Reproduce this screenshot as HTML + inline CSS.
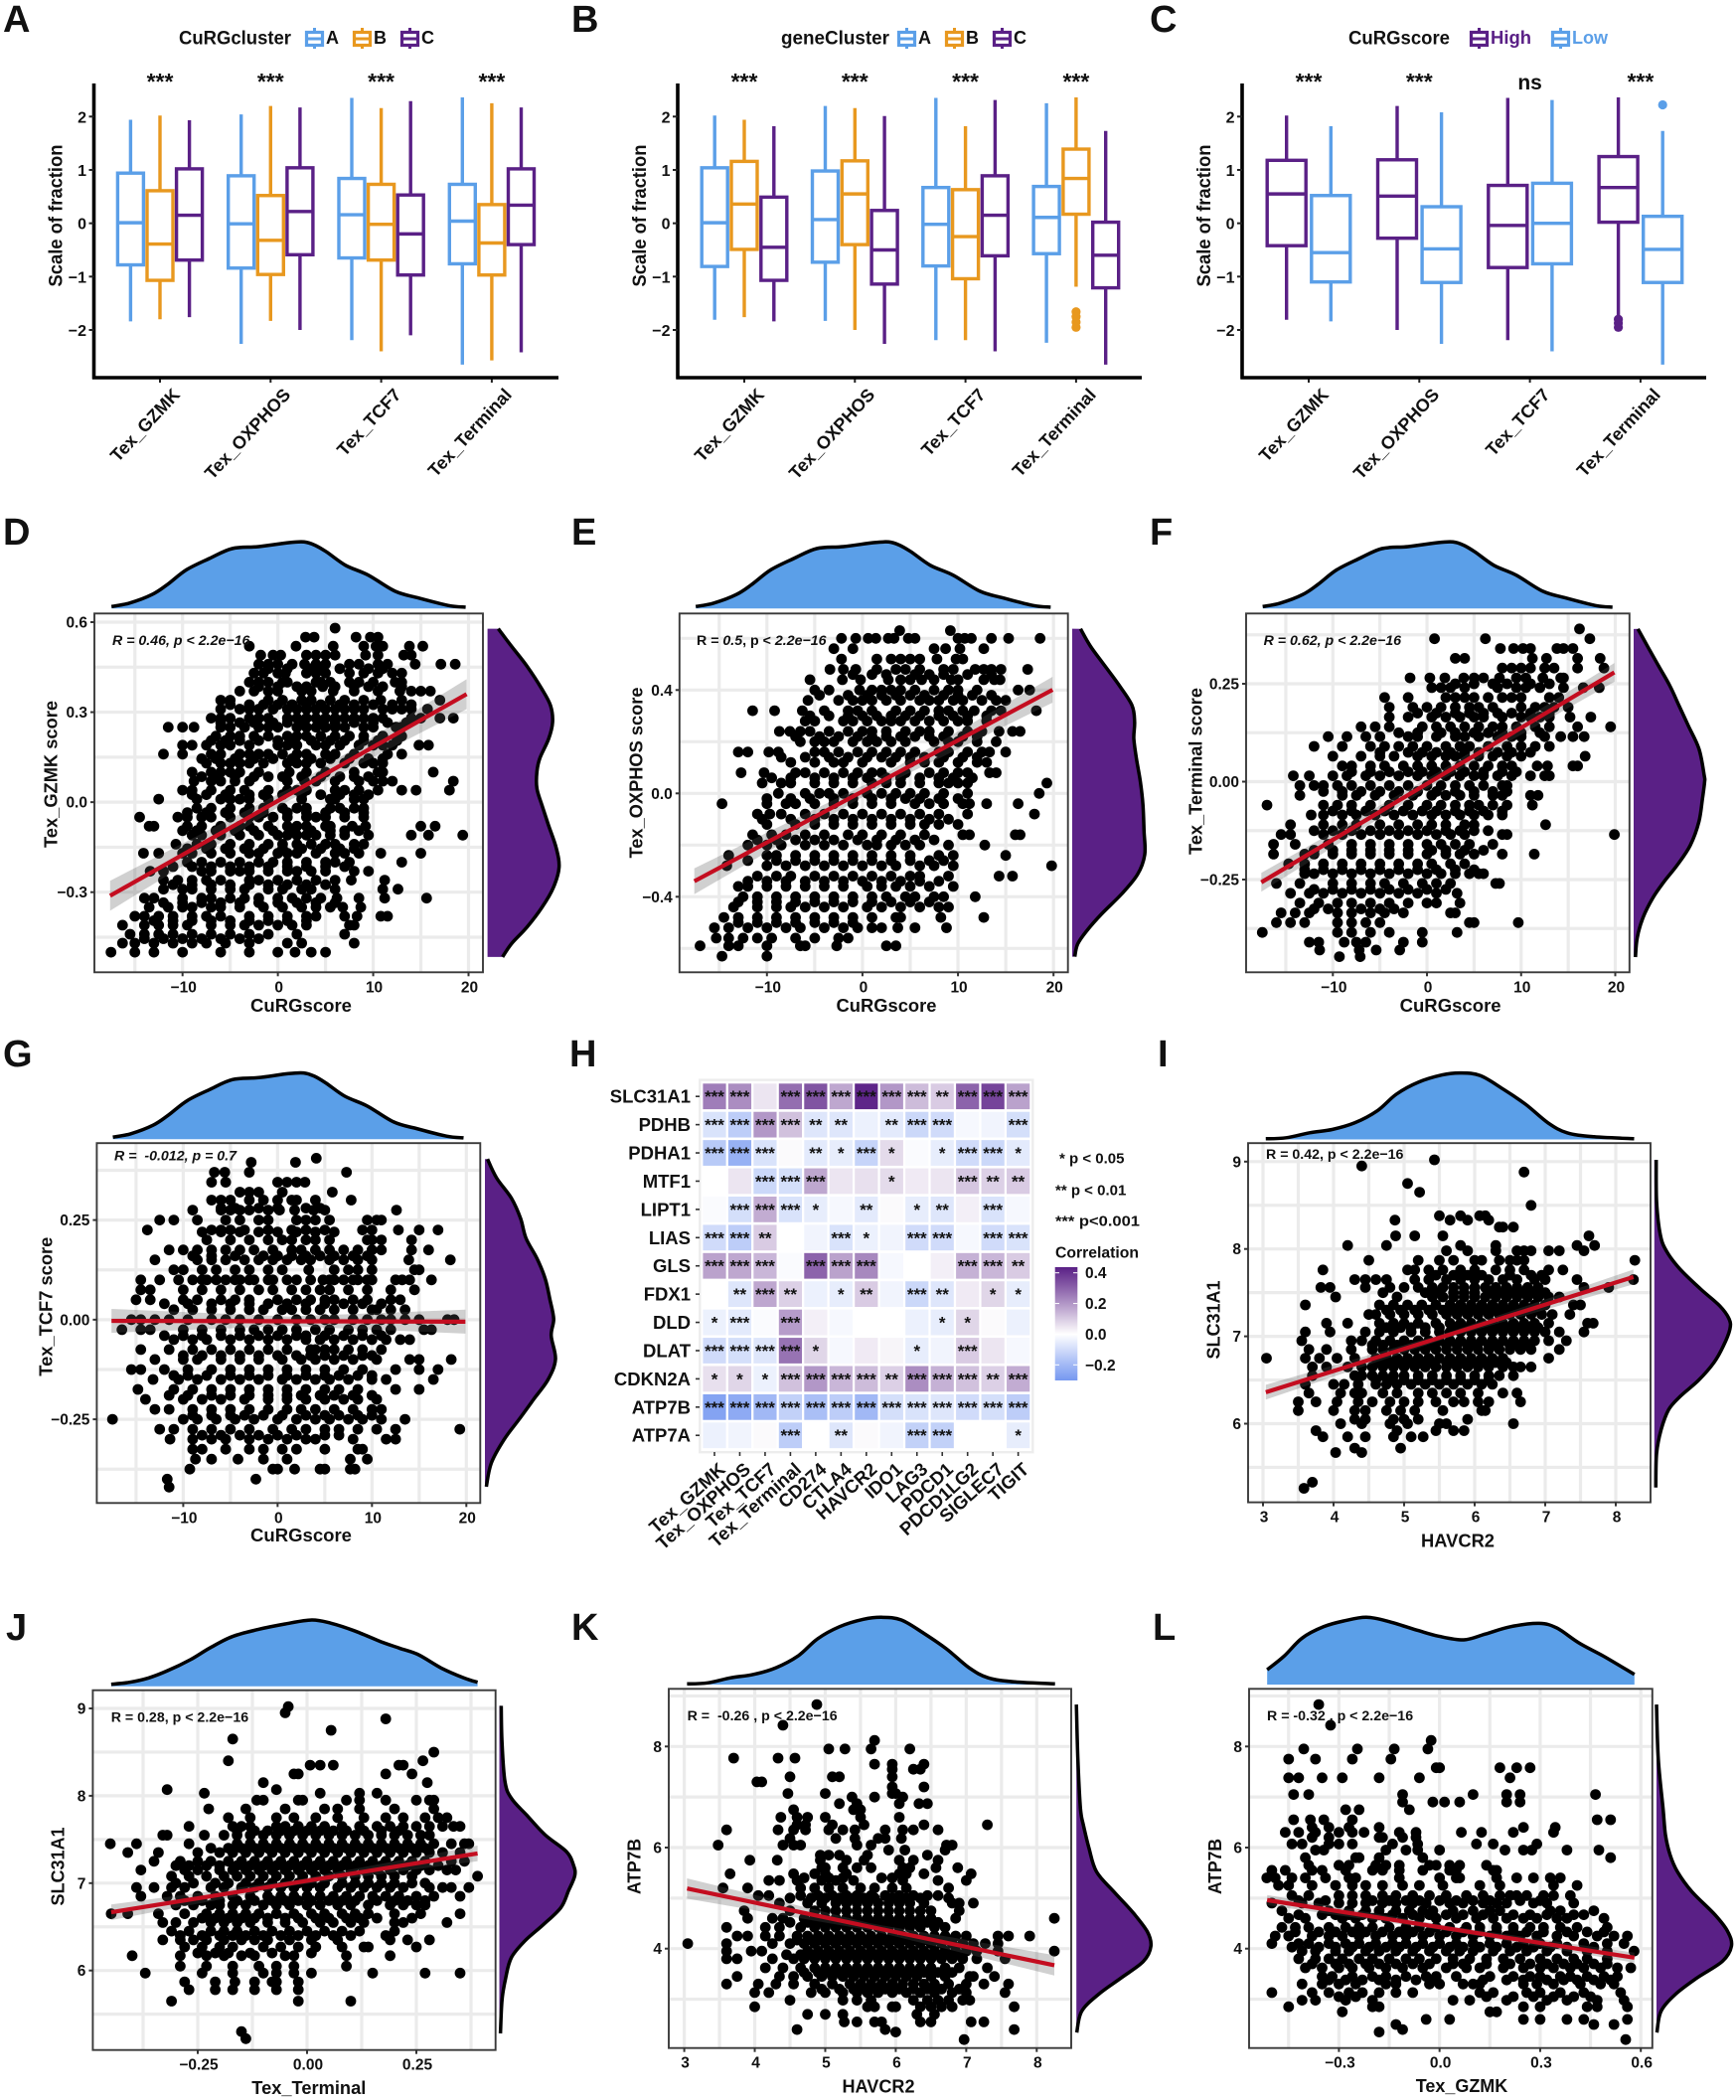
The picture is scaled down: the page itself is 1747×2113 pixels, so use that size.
<!DOCTYPE html>
<html lang="en">
<head>
<meta charset="utf-8">
<title>CuRG score panels</title>
<style>
html,body{margin:0;padding:0;background:#fff}
svg{display:block;font-family:"Liberation Sans",Arial,sans-serif}
text{font-weight:bold;fill:#111}
</style>
</head>
<body>
<svg id="figure" xmlns="http://www.w3.org/2000/svg" width="1747" height="2113" viewBox="0 0 1747 2113">
<rect width="1747" height="2113" fill="#fff"/>
</svg>
<script>
/* ===== Box plots ===== */
const boxCategories=['Tex_GZMK','Tex_OXPHOS','Tex_TCF7','Tex_Terminal'];
const boxYTicks=[2,1,0,-1,-2];
const boxYLabels=['2','1','0','−1','−2'];
const aSeries=['A','B','C'];
const aHigh=[[1.94,2.04,2.35,2.36],[2.02,2.2,2.16,2.25],[1.93,2.17,2.29,2.17]];
const aQ3=[[.94,.89,.84,.73],[.61,.52,.73,.35],[1.02,1.04,.53,1.02]];
const aMed=[[.01,-.01,.16,.04],[-.39,-.32,-.02,-.37],[.15,.22,-.2,.34]];
const aQ1=[[-.78,-.84,-.65,-.76],[-1.07,-.96,-.69,-.97],[-.69,-.59,-.97,-.4]];
const aLow=[[-1.84,-2.26,-2.19,-2.65],[-1.8,-1.83,-2.4,-2.57],[-1.76,-2,-2.1,-2.42]];
const aSig=['***','***','***','***'];
const bSeries=['A','B','C'];
const bHigh=[[2.02,2.2,2.35,2.25],[1.94,2.16,1.82,2.36],[1.82,2.01,2.31,1.73]];
const bQ3=[[1.04,.98,.67,.69],[1.16,1.17,.63,1.39],[.49,.24,.89,.02]];
const bMed=[[.01,.07,-.02,.11],[.36,.55,-.25,.84],[-.45,-.5,.15,-.6]];
const bQ1=[[-.81,-.73,-.8,-.57],[-.49,-.4,-1.04,.17],[-1.07,-1.14,-.61,-1.21]];
const bLow=[[-1.81,-1.83,-2.19,-2.24],[-1.76,-2,-2.19,-1.19],[-1.84,-2.26,-2.4,-2.65]];
const bSig=['***','***','***','***'];
const bOutSeries=[1,1,1,1];
const bOutCat=[3,3,3,3];
const bOutVal=[-1.66,-1.75,-1.85,-1.95];
const cSeries=['High','Low'];
const cHigh=[[2.02,2.2,2.35,2.36],[1.82,2.08,2.31,1.73]];
const cQ3=[[1.18,1.19,.71,1.25],[.52,.31,.75,.13]];
const cMed=[[.55,.51,-.04,.67],[-.55,-.48,0,-.49]];
const cQ1=[[-.42,-.28,-.83,.02],[-1.1,-1.11,-.76,-1.11]];
const cLow=[[-1.81,-2,-2.19,-1.81],[-1.84,-2.26,-2.4,-2.65]];
const cSig=['***','***','ns','***'];
const cOutSeries=[0,0,0,1];
const cOutCat=[3,3,3,3];
const cOutVal=[-1.8,-1.87,-1.95,2.22];

/* ===== Shared densities ===== */
const curgDensX=[-17.45,-15.6,-13.2,-11.6,-9.6,-7.2,-4.8,-2,1.15,2.75,3.9,5.1,7.1,9.5,12.3,14.7,17.9,19.7];
const curgDensH=[.03,.08,.21,.36,.58,.75,.9,.93,.99,1,.95,.85,.65,.5,.26,.16,.045,.02];
const havcrDensX=[3.04,3.33,3.66,3.98,4.3,4.62,4.89,5.2,5.54,5.8,6.08,6.4,6.72,7.04,7.31,7.69,8.26];
const havcrDensH=[.01,.025,.1,.15,.25,.43,.68,.86,.97,1,.96,.76,.53,.25,.1,.04,.01];
const jTopX=[-.448,-.406,-.363,-.319,-.267,-.223,-.171,-.11,-.05,.011,.055,.107,.168,.211,.255,.307,.359,.39];
const jTopH=[.03,.06,.125,.235,.4,.575,.75,.86,.94,1,.95,.84,.675,.575,.475,.275,.125,.06];
const lTopX=[-.514,-.464,-.41,-.346,-.282,-.218,-.153,-.068,-.003,.072,.136,.211,.297,.35,.415,.49,.581];
const lTopH=[.22,.42,.69,.86,.95,1,.94,.81,.72,.665,.75,.86,.91,.84,.62,.42,.15];
const dSideY=[.578,.52,.454,.377,.322,.267,.212,.146,.101,.046,-.009,-.075,-.152,-.218,-.285,-.351,-.417,-.472,-.516];
const dSideW=[.15,.335,.55,.76,.88,.91,.856,.73,.69,.69,.76,.85,.96,1,.92,.76,.55,.335,.21];
const eSideY=[.637,.57,.494,.417,.34,.276,.212,.135,.045,-.045,-.147,-.237,-.314,-.391,-.468,-.532,-.583,-.632];
const eSideW=[.115,.25,.45,.65,.825,.86,.85,.885,.94,.975,.99,1,.9,.675,.4,.2,.075,.035];
const fSideY=[.39,.346,.296,.245,.194,.143,.084,.016,-.001,-.043,-.102,-.162,-.213,-.255,-.297,-.348,-.399,-.448];
const fSideW=[.06,.195,.35,.51,.64,.77,.92,.995,1,.97,.92,.8,.615,.43,.27,.13,.05,.025];
const gSideY=[.403,.355,.305,.254,.204,.153,.103,.052,.002,-.04,-.099,-.15,-.2,-.251,-.301,-.36,-.419];
const gSideW=[.036,.167,.375,.505,.583,.74,.854,.92,.974,.94,1,.896,.69,.48,.27,.09,.02];
const iSideY=[9.02,8.54,8.16,7.97,7.77,7.54,7.35,7.2,7.08,6.89,6.7,6.5,6.31,6.16,5.93,5.66,5.27];
const iSideW=[.025,.03,.08,.165,.34,.615,.865,.99,1,.915,.79,.59,.34,.19,.09,.03,.02];
const jSideY=[9.03,8.61,8.16,7.97,7.78,7.55,7.36,7.21,7.09,6.91,6.72,6.53,6.34,6.15,5.92,5.66,5.28];
const jSideW=[.025,.035,.075,.16,.36,.61,.89,.98,1,.915,.815,.59,.34,.16,.085,.035,.015];
const kSideY=[8.83,7.75,6.77,6.44,5.98,5.52,5.13,4.73,4.34,4.05,3.75,3.42,3.1,2.76,2.34];
const kSideW=[0,.02,.055,.095,.17,.27,.5,.75,.95,1,.9,.6,.3,.07,.005];
const lSideY=[8.83,7.75,6.77,6.25,5.86,5.52,5.13,4.67,4.34,4.05,3.75,3.42,3.1,2.76,2.34];
const lSideW=[0,.024,.087,.12,.18,.28,.47,.78,.95,1,.88,.54,.255,.06,.005];

/* ===== Scatter values: one y level per row, x values on that level ===== */
const dLevels=[.58,.55,.52,.49,.46,.43,.40,.37,.34,.31,.28,.25,.22,.19,.16,.13,.10,.07,.04,.01,-.02,-.05,-.08,-.11,-.14,-.17,-.20,-.23,-.26,-.29,-.32,-.35,-.38,-.41,-.44,-.47,-.50];
const dRows=[[6],[2.9,3.8,8.2,9.7,10.5],[-3,1.9,5.8,9,10.3,11,13.8,15.2],[-1.8,-.5,.3,3,4,5,6,9.2,10.5,13.2,14],[-2,-1,0,1.5,2.8,4,5,7.5,8.5,10.5,11.5,14.4,17.1,18.6],[-2.5,-1.5,0,.8,3,4,5,7.5,9,10.5,12,13],[-3,-2,-1,.5,1,4,4.5,5.5,7.5,8.5,10,12.3,13],[-4,-2.5,-1,0,2.5,3.5,5.8,8,10.5,12.8,14,15,16],[-6,-5,-1,.5,2.5,3.5,5.5,7,9,10.8,13,17],[-6,-4,-3,-2,-.5,1,2,3,4,5,6,7,8,9,11,12,13,14,15.7],[-7,-6,-5,-3,-2,-1,1,2,3,4,5,6,7,8,9,10,11,14,15,17,18.4],[-11.5,-10,-8.8,-6,-5,-3.5,-2,-1,0,2,3,4,5,6,7,9,10,12.4,13],[-6.5,-5,-4,-2.5,-1,1,2,3,4.5,6,7.5,9,11,13],[-10,-9,-7.5,-6,-5,-3,0,1,2,4,5,6.5,8.5,10,11,12,14.8,15.8],[-12,-10,-7,-6,-4,-3,-2,-1,.5,2,3,5,6,8,11.5,13],[-7.5,-6,-5,-4,-3,-1.5,1,2,3,4.5,7,9,10,11],[-9,-7,-6,-5,-4,-2,1.2,3,5,8,10.5,11,16.3],[-8.8,-7,-6,-4.5,-3,1,2.8,4,6,8.5,10,11,12,18.4],[-10,-9,-7,-5,-3.5,-1,1,2,3,6,7,8.5,10.5,13,14.5,18],[-12.5,-8.5,-6,-5,-4,-3,-1,2.5,5.5,6,8,9],[-8.5,-7,-5,-3,-1.5,.5,2,3,5.5,6.5,8,9],[-14.5,-10.5,-9.5,-8,-7,-5,-3,-2,-.5,1,3,4,5,7,9],[-13.5,-13,-9.5,-8,-6,-4,-3,-1,1,2,3,5,5.5,7.8,9.2,15,16.5],[-9,-8,-6,-4,-2,0,1,2,3,4,5.5,7,9.5,14,15.8,19.4],[-10.7,-8.5,-7,-5,-3,-1,.5,2,3.5,5,6,8,9],[-14.1,-12.5,-10,-9,-7,-5,-3,-2,0,1,2,4,6,7,8.5,10.8,15],[-9.5,-8,-6,-4,-2,-.5,1,3,5,6,7.5,13],[-13.4,-12,-8,-7,-5,-4,-3,-1,1,2,3.5,5,8,9.5],[-12,-10.5,-9,-7.5,-6,-3,-2,0,2,4,6,7.7,11.2],[-12,-10,-9,-7,-5,-3.5,-1,.5,2.5,3.5,6,11,12.6],[-14,-13,-10,-8,-7,-5,-3.5,-2,0,1.5,3,4.5,6.2,8.5,11.2,15.6],[-13.5,-11.5,-10,-9,-7,-6,-4,-1.5,.5,2.5,4,5.5,6.8,8.7],[-15,-14,-12.5,-11,-9,-7.5,-6,-3,-1,1,3,4,7,8.3,10.8,11.5],[-16.3,-14,-12.5,-11,-9.5,-7,-5,-3.5,-2,0,1.5,3,7.5,8],[-15.5,-14,-12.5,-11,-9,-7,-5,-3,-1,2,7],[-16.3,-15,-13,-11,-9,-7.5,-5.5,-3,1,2.5,8],[-17.5,-15,-13,-10,-6,-3,0,1.8,3.5,5]];
const dLevels2=[.445,.385,.325,.265,.205,.145,.085,.025,-.035,-.095,-.155,-.215,-.275,-.335,-.395,-.455];
const dRows2=[[-1,1,3.5,4.5,6.5,9.5,11],[-2,0,2,3,4.7,6,8,9.5,11,13],[-5,-3,-1.5,0,1.5,3,4.5,6.5,8,10,12,14],[-6,-4,-2.5,-.5,1,2.5,4.5,6,8,10,11.5,13.5],[-7,-5.5,-4,-2,0,1.5,3.5,5.5,7,9,10.5,12.5],[-8,-6.5,-4.5,-2.5,-.5,1.5,3.5,5.5,7.5,9.5,11],[-8,-6.5,-4.5,-2.5,-1,.5,2.5,4.5,6.5,8,9.5],[-9,-7.5,-5.5,-3,-1.5,.5,2.5,4.5,6.5,8,9.5],[-9.5,-7.5,-5.5,-3.5,-1.5,1,3,5,7,9],[-10,-8.5,-6.5,-4.5,-2.5,-.5,1.5,3.5,5.5,7,8.5],[-9.5,-7.5,-5.5,-3.5,-1.5,.5,2.5,4.5,6.5,8],[-11,-9,-7,-5,-3,-1,1,3,5,7],[-11,-9,-7,-5,-3,-1,1,3,5],[-12,-10,-8,-6,-4,-2,0,2,4,6],[-13,-11,-9,-7,-5,-3,-1,1,3],[-14,-12,-10,-8,-6,-4,-2]];
const eLevels=[.63,.60,.56,.52,.48,.44,.40,.36,.32,.28,.24,.20,.16,.12,.08,.04,0,-.04,-.08,-.12,-.16,-.20,-.24,-.28,-.32,-.36,-.40,-.44,-.48,-.52,-.56,-.59,-.63];
const eRows=[[3.9,9.2],[-2.2,-.7,.6,1.4,2.7,3.3,4.8,5.5,10,10.7,11.4,13.5,15.3,18.6],[-3,-1,7.5,8.7,10.2,12.7],[-2.2,1.5,3,4,5,6,7.8,9.8,10.5],[-3.4,-2,-.7,1.5,3.5,4.5,6,8.5,9.5,11.8,12.7,13.5,14.5,17.3],[-5.5,-2.1,-.2,2.7,4,5,6.2,7.5,9.3,10,12.7,13.8,14.4],[-5,-3.5,-.3,1,2,3,4,5.5,7.5,9,10,12,17.5,16.3],[-5.7,-2.5,-1,0,1,2.5,4,6,7,8,9.5,10.5,12.5,14,15],[-11.5,-9.2,-6.3,-4,-1.5,-.5,1,3.5,5,6.5,8,9,10.5,11.7,13.5,14.5,18.2],[-6,-5,-2,-1,.5,2,3,4,5.5,7,8.5,10,11,13],[-8.7,-7.6,-6.5,-5.5,-3.5,-1.5,0,1,2.5,4.5,6,7,9,11,12.5,14.3,15.7,16.5],[-6.5,-5,-4,-3,-1,.5,1.5,3,4.5,7.5,9,10,12,14],[-13,-12,-9.8,-8.8,-5,-4,-2.5,-.5,1,2.5,4,5.5,8,9,11,12.5,13.3,15],[-7.5,-5,-3,-2,0,3,5,6.5,8,10,12,13],[-12.7,-10.3,-7,-6,-4,-2,-.5,1,2,4.5,7,8.5,10,11,13.3,14],[-10.5,-8.5,-7.5,-5,-3,-1,1,2.5,4,6,8,9,10,11,19.3],[-8.8,-6,-4.5,-3.5,-2,.5,2,3.5,5,6.5,8.5,11,18.5],[-14.7,-10,-8,-7,-5,-3,-1,1,3,5.5,7,8.5,10.5,11.2,13,16.3],[-11,-9.7,-8.5,-6,-4,-2,0,2,4,6,8,11,18],[-10,-7,-5,-3,-1,1,3,5,6.5,8,10],[-11.5,-9.5,-8,-6,-4,-1.5,0,2,4,6.5,10.5,11.2,16,16.5],[-12,-10,-8.5,-6,-4,-2,.5,1.5,3,4.5,6,9,12.8],[-14,-10,-9,-7,-5,-3,-1,1,3,5,8,9.5,15],[-14.2,-10,-8,-6,-4,-2,0,2,3.5,6,7.5,9.5,19.8],[-11,-9,-7.5,-5,-3,-1,1,3,5,6,9,14.3,15.7],[-13,-12,-10,-8,-6,-4,-2,.5,2,3.5,5,7,9.5],[-12.5,-11,-9,-7,-5,-3,-1,1,2.5,4.5,5.5,7.5,8.5,11.8],[-13.5,-11,-9,-7.5,-6,-4,-2,.5,2,4,6,8,9],[-14.5,-13,-11,-9,-7,-5,-3,-1,1,3.5,4,8.2,12.7],[-15.5,-14,-12,-10,-8,-6.5,-4,-2,-.5,1,2,3.7,5.5,8.8],[-15.3,-14,-12.5,-11,-9.5,-7,-5,-2.5,-1.5],[-17,-14,-13,-10,-6.5,-6,-2.7,2.5,3.5],[-14.7,-10]];
const eLevels2=[.46,.38,.30,.22,.14,.06,-.02,-.10,-.18,-.26,-.34,-.42,-.50];
const eRows2=[[-1,1,2.5,5.5,7,8.5,11,13.5],[-4.5,-1.5,.5,2,3.5,5,6.5,8.5,10,11.5,13.5],[-5.5,-3.5,-1.5,0,1.5,3,4.5,6,8,9.5,11,13],[-7,-4.5,-2.5,-.5,1,2.5,4,5.5,7,8.5,10.5,12],[-8.5,-6,-3.5,-1.5,.5,2,3.5,5,6.5,8.5,10.5,12],[-9.5,-7.5,-5,-3,-1,.5,2.5,4,6,8,9.5,11.5],[-10,-7.5,-5.5,-3,-1,1,3,4.5,6,8,10],[-10.5,-7.5,-5,-3,-1,1,3,5,7,9],[-11,-9,-7,-5,-3,-.5,1.5,3.5,5.5,7.5],[-12,-9,-7,-5,-3,-1,1,3,5,7,8.5],[-12,-10,-8,-6,-4,-2,0,2,4,6,8],[-13,-11,-9,-7,-5,-3,-1,1,3,5,7],[-13,-11,-9,-7,-5,-3,-1]];
const fLevels=[.39,.365,.34,.315,.29,.265,.24,.215,.19,.165,.14,.115,.09,.065,.04,.015,-.01,-.035,-.06,-.085,-.11,-.135,-.16,-.185,-.21,-.235,-.26,-.285,-.31,-.335,-.36,-.385,-.41,-.43,-.447];
const fRows=[[16.2],[.8,6.2,17.3],[7.8,9.2,10.2,11,13.8,14.5,15.5],[3,4,11.2,12.7,16,18.4],[8,9,10,11,12.5,13.5,16,18.8],[-1.8,.3,1.9,3.9,5,6,7.7,9.5,10.5,12.3,14.2,14.5],[.5,1.5,2.5,4,7.5,9.5,10.5,12,14.5,16.6,18.3],[-4.5,-2,2,3,4,5,6.5,8,9,10,13,14],[-4,-1.5,0,1.5,3,4.5,5.5,7,10,11.5,12.5,13.5,15],[-4,-2,.5,2,3.5,5,6,8,10,11,12,13,15.2,17.4],[-7,-5.5,-4,-.5,1,2.5,4,5.5,7,8,9.5,11.5,13,16,19.5],[-10.5,-8.5,-6.5,-5,-2,-1,1,3,4,5.5,7.5,9,10,12.5,14.2,15.5,16.7],[-12,-9,-6,-4.5,-3,-1.5,0,2,3.5,4.5,6.5,8.5,10,11.5,13],[-10,-7,-5,-3.5,-1,.5,2,3,4,5.5,7,8.5,10,16.8],[-9,-8,-6,-4.5,-2.5,-1,.5,2,3.5,5,6.5,8,9,11.7,12.8,15.5,16],[-14.2,-12.5,-10,-8.5,-6.5,-5,-3,-1,.5,2,3.5,5,6,7.5,9,11,12.5,13],[-13.5,-12,-11,-9.5,-8,-6,-4,-2,0,1.5,3,4.5,6,8,8.5],[-13.5,-9,-7.5,-5.5,-3.5,-1.5,.5,2,3.5,5,7,8,11,11.8],[-17,-11,-9.5,-8,-6,-4,-2,0,1.5,3,4.5,5.5,7,8.5,11.2],[-12.3,-11,-9,-7.5,-5.5,-3.5,-1.5,.5,2,3.5,5,6.5,8],[-14.5,-11,-9,-7.5,-5,-3,-1,.5,2,4,5,12.6],[-15.5,-14.5,-11,-9,-7,-5,-3,-1,1,2.5,4,8,8.5,19.9],[-16.3,-14,-10.5,-8,-6,-4,-2,0,1.5,3,4.5,7],[-16.3,-13,-12,-10,-8,-6,-4,-2,0,2,3.5,5,8,11.4],[-14.7,-13,-11,-9,-7,-5,-3,-1,.5,2.5,4],[-13,-12,-10,-8,-6,-4,-2,0,1.5,3,4.5,5.5,6],[-16,-13.5,-10,-8,-6,-4.5,-2.5,-.5,1,2.5,7.3,7.7],[-14.5,-12.5,-11,-9,-7,-5,-3,-1,1,3.2],[-13.5,-11.5,-9.5,-8,-6,-4,-2,0,1,3.5],[-15.5,-14,-12.5,-9.5,-8,-6,-4.5,-2.5,2.5,3],[-16,-14.5,-13,-9.5,-8,-6.5,-5,4.5,5,9.7],[-17.5,-9.5,-8,-6,-4,-.5,3.2],[-12.5,-11.5,-8.8,-7.5,-6.5,-2.5,-.5],[-11.4,-7.2,-5.4,-2.9],[-9.3,-7.1]];
const fLevels2=[.25,.175,.125,.075,.025,-.025,-.075,-.125,-.175,-.225,-.275,-.325];
const fRows2=[[3,5,7,8.5,11,13],[-1,1,3,4.5,6,7.5,9,11,13],[-3,-1,1.5,3,5,6.5,8,10,12],[-5,-2,-.5,1,2.5,4,5.5,7.5,9,11],[-8,-6,-4,-2,-.5,1,2.5,4,6,8,9.5],[-11,-9,-7,-5,-3,-1,1,3,5,7,8.5],[-10,-8,-6.5,-4.5,-2.5,-.5,1,3,4.5,6,8],[-12,-10,-8,-6,-4,-2,0,2,3.5,5,6.5],[-12,-10,-8,-6,-4,-2,.5,2,4,6],[-13,-11,-9,-7,-5,-3,-1,1,3,5],[-12,-10,-8,-6,-4,-2,0,2],[-12,-10.5,-7,-5,-3.5]];
const gLevels=[.405,.395,.37,.345,.32,.30,.275,.25,.225,.20,.175,.15,.125,.10,.075,.05,.025,0,-.025,-.05,-.075,-.10,-.125,-.15,-.175,-.20,-.225,-.25,-.275,-.30,-.325,-.35,-.375,-.40,-.42];
const gRows=[[4.1],[1.9,-2.8],[-6.7,-5.6,-3,7.3],[-7,-5.5,0,1,2,2.9],[-4,-3,-2,.5,5.8],[-7,-6,-5,-3,-1.5,0,1.5,2,4,7.8],[-9,-6,-5,-4,-3,-1,.2,1.8,3.8,5,12.6],[-12.5,-11,-8.5,-5.5,-4,-2,-1,2,3,4,5.5,9.5,10.5,11],[-13.8,-7,-6,-5,-3.5,-1,1.5,3,5,9,10,12.8,15,17],[-7.5,-5,-3,-1,.5,1.5,3,4,5.5,9.5,10,11,14.2],[-11.5,-10,-8.5,-7,-5.5,-4,-2.5,-.5,1.5,2.5,4,5.5,7,8.5,10,11,14.2,16],[-13,-8.5,-7,-5.5,-3.5,-2,-.5,1,2.5,3.5,5.5,7,8.5,10,13.9,18.3],[-11,-10,-8,-6.5,-4.5,-3,-1,.5,3.3,6,7.5,8.5,10,14.5,15],[-14.5,-12.5,-9,-7.5,-5.5,-4,-2.5,-1,1,4.8,6,7,8.5,10,12.5,13.2,14,16.3],[-14.5,-13.5,-10,-8,-6,-4,-2,-.5,1.5,3,4.5,5.5,7.5,9.5,12,14.5],[-15,-13.5,-10,-8.5,-6,-4.5,-3,0,2,3.5,5,6,8,9.5,12,13],[-11,-9,-7,-5,-3,-1.5,.5,1.5,3,4.5,6,8,10,10.5,12,13.5],[-15.5,-14.5,-13,-11.5,-9.5,-7,-5.5,-4,-2,0,2,3.5,5,6,8,9.5,11,12,13.5,15,18,18.7],[-16.5,-14.5,-13.5,-10,-8,-6,-4,-2.5,-1,.5,2,4,5.5,7.5,9,10.5,12,15.5,16.3],[-11,-9,-7.5,-5,-3,-1,1,3,4.5,6,8,10,11.5,13,14],[-14.5,-11.5,-9,-7,-5,-3,-1,1,3.5,4,5,6,7.5,9,11],[-13,-10,-8.5,-6,-4,-2,.5,2.5,4,6,8,10.5,14,15,18.4],[-15.5,-14.5,-12,-9.5,-7,-5,-3,-1,1,3,5,7,9,12.5,15,17],[-13.2,-10.5,-8.5,-6,-4,-2,.5,2,4,5.5,7.5,10,11.5,16.5],[-14.8,-11,-9,-7,-5,-3,-1,1,3,5,6.5,8.5,12.5,15],[-14,-10,-8,-6,-3.5,-1,1,3,5,7,8.5,10.5],[-13,-11.5,-9,-7,-5,-3,-1,1,2.5,4,6,8,10,11],[-17.5,-10,-8.5,-6.5,-4.5,-2.5,0,2,4,5.5,7.5,9,11,13.5],[-12.5,-11,-9,-7,-5,-3,-.5,1.5,3,5,6.5,8.5,10.5,12.5,19.3],[-11.4,-9,-7,-5.5,-3,-1,1,3,4,8,11.5,12.5],[-9,-8,-5.5,-3,-1.5,.5,2,5,8.5,9],[-8.7,-7,-4.2,-1.5,1,7.7,9.5],[-9.3,-.5,0,1.8,4.5,5,7.7,8.2],[-11.7,-2.3],[-11.5]];
const gLevels2=[.28,.22,.16,.10,.04,-.04,-.09,-.14,-.19,-.24,-.29];
const gRows2=[[-6,-4.5,-2,0,3,4.5],[-8,-6,-4,-2,0,2,4,6],[-9,-7,-4.5,-1.5,0,1.5,3,4.5,6,8,9.5],[-10.5,-8,-6.5,-4.5,-3,-.5,2,3.5,5.5,8,9.5],[-12,-9.5,-7,-5,-3,-1,1,3,5,7,9,11],[-12,-10,-8,-6,-4,-2,0,2,3,5,7,9,11],[-10,-8,-6,-4,-2,0,2,3.5,5,7,9,10],[-11,-9.5,-7.5,-5,-3,-1,1,3,5,6.5,8.5,10],[-11.5,-9.5,-7,-5,-3,-1,1,2.5,4.5,6,8,10],[-9,-7,-5,-3.5,-1.5,.5,3,5,6.5,8.5,10],[-8,-6,-4,-2,0,2,5,6.5]];
const iLevels=[9.02,8.95,8.88,8.75,8.65,8.5,8.38,8.33,8.25,8.15,8.04,7.98,7.87,7.76,7.65,7.56,7.45,7.36,7.25,7.15,7.05,6.95,6.85,6.75,6.65,6.55,6.45,6.35,6.25,6.15,6.05,6,5.92,5.85,5.72,5.67,5.33,5.26];
const iRows=[[5.43],[4.4],[6.7],[5.05],[5.22],[6.8],[5.5,5.8,6.07,6.15],[4.87,5.65,5.9,6.2],[6.35,6.4,6.55],[4.88,5.15,5.55,7.62],[4.2,4.75,5.8,6.3,7.45,7.7],[5.6,5.9,6.3,6.6,6.7,6.8,7.05,7.2,7.55],[4.5,5.2,5.5,5.7,6,6.1,6.35,6.5,6.6,6.7,8.27],[3.85,5.05,5.15,5.35,5.55,5.8,6,6.3,6.5,6.7,7.05,7.25],[4.3,4.45,4.6,4.75,5.15,5.35,5.6,5.8,6,6.2,6.4,6.6,6.85,7,7.45,8.25],[3.82,3.95,4.45,4.8,5,5.2,5.4,5.55,5.7,5.85,6,6.15,6.3,6.45,6.6,6.75,6.9,7.55,7.9],[4.03,4.9,5.4,5.55,5.7,5.85,6,6.15,6.3,6.45,6.6,6.75,6.9,7.05,7.2],[3.6,4.65,4.85,5.05,5.25,5.45,5.65,5.8,5.95,6.1,6.25,6.4,6.55,6.7,6.85,7,7.4,7.5],[4.5,4.6,4.8,5,5.2,5.4,5.6,5.75,5.9,6.05,6.2,6.35,6.5,6.65,6.8,6.95,7.1,7.35],[3.9,4.2,4.65,4.85,5,5.2,5.45,5.65,5.8,5.95,6.1,6.25,6.4,6.55,6.7,6.85,7.05,7.6,7.68],[3.6,3.95,4.45,4.65,4.85,5.1,5.3,5.5,5.65,5.8,5.95,6.1,6.25,6.4,6.55,6.7,6.85,7,7.2,7.55],[3.55,4.25,4.4,4.6,4.8,5,5.2,5.35,5.5,5.65,5.8,5.95,6.1,6.25,6.4,6.55,6.7,6.85,7.05,7.3],[3.65,3.9,4.25,4.55,4.7,4.85,5,5.15,5.3,5.45,5.6,5.75,5.9,6.05,6.2,6.35,6.5,6.65,6.8,7.2],[3.05,3.6,3.8,4.05,4.3,4.6,4.75,4.9,5.05,5.2,5.35,5.5,5.65,5.8,5.95,6.1,6.25,6.4,7.05],[3.7,3.9,4.2,4.4,4.55,4.7,4.85,5,5.15,5.3,5.45,5.6,5.75,5.9,6.05,6.2,6.4,6.55,6.65,6.8],[3.7,4.3,4.4,4.55,4.7,4.85,5,5.2,5.4,5.6,5.8,6,6.2,6.35,6.55],[3.6,4,4.15,4.35,4.6,4.75,4.9,5.1,5.3,5.5,5.7,5.9,6.1,6.25],[3.65,4.1,4.3,4.4,4.7,4.9,5.2,5.4,5.6,5.8,6.05,6.4,6.6],[3.5,3.75,4.05,4.35,4.55,4.8,5,5.2,5.45,5.7,5.85,6.05,6.2,6.65],[3.5,4,4.3,4.45,4.75,4.95,5.15,5.55,6.1,6.15],[4.3,4.45,4.85,5,5.2,5.9],[4.1,4.4,4.8,5.05,5.5,5.6,6.55],[3.75,4.9,5.45,5.7,5.85],[3.85,4.2,4.45,4.85,5.1,5.27],[4.3,4.95],[4.03,4.4],[3.7],[3.58]];
const iLevels2=[7.7,7.5,7.3,7.1,6.9,6.7,6.5];
const iRows2=[[5.45,5.7,5.9,6.1,6.5,6.8,6.95],[4.7,5.3,5.5,5.7,5.85,6,6.2,6.4,6.55,6.7,6.85,7],[4.75,4.95,5.15,5.35,5.55,5.7,5.85,6,6.15,6.3,6.45,6.6,6.75,6.9],[4.75,4.95,5.1,5.3,5.5,5.7,5.85,6,6.15,6.3,6.45,6.6,6.75,6.9],[4.55,4.7,4.9,5.1,5.25,5.4,5.6,5.75,5.9,6,6.2,6.3,6.5,6.6,6.75],[4.65,4.8,4.95,5.1,5.25,5.4,5.6,5.7,5.85,6,6.15,6.3,6.45],[4.6,4.8,5,5.2,5.4,5.6,5.8,6,6.2]];
const jLevels=[9.02,8.95,8.88,8.75,8.65,8.5,8.4,8.35,8.25,8.15,8.07,8.03,7.95,7.85,7.75,7.65,7.55,7.45,7.35,7.25,7.15,7.08,6.95,6.85,6.75,6.65,6.55,6.45,6.35,6.27,6.17,6.05,5.97,5.87,5.78,5.65,5.3,5.22];
const jRows=[[-.043],[-.05],[.18],[.055],[-.17],[.29],[-.18,.265],[.007,.03,.06,.21,.22],[-.03,-.02,.18,.24],[-.1,.275],[-.32,-.07],[-.235,.03,.12,.16],[-.115,-.1,-.02,-.01,.09,.12,.18,.25,.28,.29],[-.225,-.14,-.05,.04,.07,.12,.2,.29],[-.18,-.13,-.07,-.03,.02,.07,.13,.18,.22,.27,.3,.32],[-.27,-.17,-.15,-.13,-.07,-.05,-.02,.01,.04,.08,.12,.16,.19,.22,.25,.28,.31,.335,.35],[-.33,-.32,-.235,-.19,-.16,-.13,-.1,-.07,-.04,-.01,.02,.05,.08,.11,.14,.17,.2,.23,.26,.28],[-.45,-.39,-.27,-.16,-.13,-.1,-.07,-.04,-.01,.02,.05,.08,.11,.14,.17,.2,.23,.26,.29,.33,.36,.37],[-.41,-.34,-.25,-.2,-.17,-.14,-.11,-.08,-.05,-.02,.01,.04,.07,.1,.13,.16,.19,.22,.25,.28,.31,.35],[-.35,-.29,-.25,-.22,-.18,-.15,-.12,-.09,-.06,-.03,0,.03,.06,.09,.12,.15,.18,.21,.24,.27,.33,.36],[-.38,-.28,-.25,-.2,-.17,-.14,-.11,-.08,-.05,-.02,.01,.04,.07,.1,.13,.16,.19,.22,.25,.28,.32,.34],[-.31,-.27,-.23,-.19,-.16,-.13,-.1,-.07,-.04,-.01,.02,.05,.08,.11,.14,.17,.2,.24,.39],[-.39,-.35,-.31,-.28,-.22,-.19,-.15,-.12,-.09,-.06,-.03,0,.03,.07,.1,.13,.16,.19,.22,.28,.31,.33,.37],[-.38,-.32,-.29,-.25,-.21,-.17,-.13,-.09,-.06,-.03,0,.03,.06,.09,.12,.15,.18,.21,.25,.29,.35],[-.3,-.26,-.22,-.2,-.17,-.14,-.1,-.07,-.04,0,.03,.07,.1,.14,.19,.22,.25,.27],[-.448,-.41,-.34,-.28,-.23,-.2,-.17,-.14,-.11,-.07,-.03,.01,.04,.08,.11,.14,.2,.26,.35],[-.33,-.3,-.26,-.22,-.19,-.16,-.13,-.09,-.05,-.01,.03,.06,.1,.13,.2,.22,.32],[-.31,-.27,-.22,-.19,-.16,-.12,-.08,-.04,0,.04,.08,.12,.2],[-.33,-.29,-.26,-.23,-.19,-.15,-.12,-.09,-.04,.01,.07,.19,.23,.28],[-.28,-.24,-.2,-.17,-.1,-.06,-.02,.02,.08,.13,.14,.25],[-.4,-.29,-.23,-.19,-.15,-.12,-.05,-.03,.09,.19],[-.29,-.23,-.17,-.11,-.07,-.03,.09],[-.37,-.24,-.17,-.1,-.07,-.03,.01,.15,.27,.35],[-.28,-.21,-.165,-.12,-.08,-.07,-.02],[-.27,-.21,-.17,-.12,-.07,-.02],[-.31,-.02,.1],[-.15],[-.14]];
const jLevels2=[7.6,7.4,7.2,7.0,6.8,6.6,6.4,6.2];
const jRows2=[[-.16,-.12,-.09,-.06,-.03,0,.03,.06,.09,.13,.17,.21],[-.22,-.18,-.15,-.12,-.09,-.06,-.03,0,.03,.06,.09,.12,.15,.18,.21,.24,.27],[-.3,-.27,-.23,-.2,-.16,-.13,-.1,-.07,-.04,-.01,.02,.05,.08,.11,.14,.17,.2,.23,.26,.3],[-.3,-.26,-.21,-.18,-.14,-.11,-.08,-.05,-.02,.01,.04,.08,.11,.14,.17,.2,.24,.27],[-.28,-.24,-.2,-.16,-.12,-.08,-.05,-.02,.01,.05,.08,.11,.16,.2,.23,.27],[-.24,-.21,-.18,-.15,-.12,-.09,-.05,-.02,.02,.05,.09,.12,.16,.24],[-.29,-.24,-.2,-.17,-.14,-.1,-.06,-.02,.02,.06,.1,.18],[-.25,-.21,-.18,-.13,-.08,.01]];
const kLevels=[8.83,8.42,8.12,7.95,7.77,7.65,7.55,7.4,7.3,7.2,7.07,7,6.87,6.75,6.6,6.45,6.35,6.18,6.05,5.95,5.85,5.75,5.6,5.48,5.35,5.2,5.05,4.9,4.75,4.6,4.42,4.25,4.1,3.95,3.8,3.62,3.45,3.3,3.13,2.98,2.85,2.7,2.55,2.4,2.35,2.2];
const kRows=[[4.88],[4.4],[5.7],[5.05,5.28,5.65,6.2],[3.7,4.33,4.57],[5.7,5.95,6.4],[5.95,6.25,6.35],[4.5,5.1,5.2,5.95],[4.03,4.1],[5.95,6.4],[4.47,5,5.95,6],[5.38,5.7,6.1],[5.2,5.45,6.05,6.33,6.45],[4.55,5.4,5.5],[4.37,4.6,4.75,5,5.5,6.05],[4.6,4.72,5.1,5.55,6.4,7.3],[3.6,4.33,4.55,4.72,5.05,5.25,5.42,5.85,6.1,6.25,6.6],[4.5,5.15,5.42,5.75,5.85,6.08],[3.48,4.4,4.55,4.65,5.45,5.65,6.72,6.8],[5.9,6.13,6.7],[4.93,5.05,5.2,5.6,6.45],[3.93,4.32,4.93,5.3,5.55,6.05,6.25,6.6],[4.95,5,5.25,5.45,5.65,6.1,6.2,6.57,6.88],[3.65,4.55,4.85,5,5.3,6.05,6.15,6.4,7.07],[4.2,4.35,4.6,4.95,5.15,5.4,6.1,6.6,7],[3.55,3.9,4.65,4.85,5.05,5.25,5.5,5.7,5.95,6.15,6.75],[4.05,4.2,4.65,4.9,5.1,5.3,5.45,5.65,5.85,6.05,6.25,6.45,6.6],[4.35,4.75,4.95,5.15,5.3,5.45,5.6,5.75,5.9,6.05,6.2,6.4,6.8,6.9,7.1],[3.85,4.5,4.85,5,5.15,5.3,5.45,5.6,5.75,5.9,6.05,6.2,6.35,6.5,6.9],[3.9,4.25,4.4,4.7,4.85,5,5.15,5.3,5.45,5.6,5.75,5.9,6.05,6.2,6.35,6.5,6.85,8.25],[3.6,4.15,4.35,4.65,4.85,5,5.15,5.3,5.45,5.6,5.75,5.9,6.05,6.2,6.35,6.55,6.7],[3.75,3.9,4.15,4.35,4.6,4.75,4.9,5.05,5.2,5.35,5.5,5.65,5.8,5.95,6.1,6.25,6.4,6.55,6.7,6.85,7,7.45,7.6,7.9],[3.05,3.6,4.25,4.5,4.7,4.85,5,5.15,5.3,5.45,5.6,5.75,5.9,6.05,6.2,6.35,6.5,6.65,6.8,6.95,7.1,7.27,7.45],[3.6,3.95,4.1,4.75,4.9,5.05,5.2,5.35,5.5,5.65,5.8,5.95,6.1,6.25,6.4,6.55,6.7,6.85,7,7.15,7.45,8.25],[3.6,3.75,4.25,4.55,4.7,4.85,5,5.15,5.3,5.45,5.6,5.75,5.9,6.05,6.2,6.35,6.5,6.65,6.8,6.95,7.15,7.55],[4.15,4.4,4.65,4.85,5,5.15,5.3,5.45,5.6,5.75,5.9,6.05,6.2,6.35,6.5,6.7,6.9,7.3],[3.75,4.35,4.55,4.75,4.95,5.1,5.25,5.4,5.55,5.7,5.85,6,6.15,6.3,6.5,6.7,7.05,7.1,7.4],[3.6,4.05,4.3,4.55,4.85,5.1,5.35,5.5,5.65,5.8,5.95,6.1,6.25,6.4,6.55,6.75,7,7.25,7.6],[4,4.2,4.8,5,5.25,5.45,5.6,5.75,5.95,6.15,6.35,6.55,6.8,7,7.55],[4.5,5.25,5.45,5.65,6.25,6.45,6.6,6.75,6.95,7.05],[4,5.6,5.7,5.95,6,6.35,6.5,6.65,6.8,7.68],[4.75,5,5.25,6.3,6.55],[5.27,5.45,5.7,5.8,6.35,6.5,7.07,7.25],[4.6,5.85,7.68],[6],[6.97]];
const kLevels2=[5.4,5,4.52,4.17,3.88,3.53,3.2];
const kRows2=[[4.7,5.05,5.25,5.8,5.95],[4.5,4.8,5,5.2,5.4,5.55,5.7,5.95,6.15,6.35,6.75],[4.5,4.75,4.95,5.1,5.25,5.4,5.55,5.7,5.85,6,6.15,6.3,6.45,6.6],[4.6,4.8,4.95,5.1,5.25,5.4,5.55,5.7,5.85,6,6.15,6.3,6.45,6.6,6.75],[4.45,4.65,4.8,4.95,5.1,5.25,5.4,5.55,5.7,5.85,6,6.15,6.3,6.45,6.6,6.75,6.9],[4.7,4.9,5.05,5.2,5.35,5.5,5.65,5.8,5.95,6.1,6.25,6.4,6.6,6.8],[4.95,5.2,5.4,5.55,5.7,5.85,6.05,6.25,6.45,6.65,6.9]];
const lLevels=[8.83,8.42,8.12,7.95,7.75,7.58,7.38,7.05,6.9,6.75,6.55,6.4,6.3,6.2,6.07,5.95,5.8,5.65,5.55,5.4,5.25,5.05,4.9,4.75,4.6,4.42,4.25,4.1,3.95,3.8,3.62,3.45,3.3,3.13,2.98,2.85,2.75,2.6,2.5,2.4,2.35,2.2];
const lRows=[[-.36],[-.325],[-.025],[-.405,-.245,-.135,-.035],[-.45,-.37,-.26,-.145],[-.01,0,.18,.23,.27],[-.45,-.42,-.35,-.29,-.18,-.06,.21],[-.435,-.39,-.11,.1,.2,.24,.465],[-.11,-.02,.015,.06,.2,.24],[-.28,-.24,-.09],[-.435,-.385,-.345,-.26,.47,.51],[-.38,-.33,-.27,-.18,.25,.345],[-.46,-.42,-.37,-.3,-.26,-.225,-.12,-.07,.065,.125,.22,.34],[-.38,-.33,-.18,-.17,-.11,-.07],[-.44,-.41,-.33,-.3,-.26,-.14,-.065,.11,.16,.29],[-.37,-.345,-.16,-.1,-.065,0,.195,.25,.275,.38,.475],[-.4,-.25,-.24,-.18,-.05,.51],[-.39,-.3,-.27,-.19,-.16,-.12,-.03,-.01,.03,.06,.14],[-.5,-.46,-.38,-.35,-.28,-.2,-.17,-.12,-.05,.03,.05,.16,.17],[-.515,-.49,-.44,-.4,-.34,-.27,-.25,-.12,0,.05,.06,.17,.23,.28,.33,.36],[-.48,-.45,-.38,-.31,-.26,-.22,-.17,-.11,-.06,.01,.12,.18,.34,.41],[-.44,-.39,-.3,-.26,-.22,-.17,-.13,-.08,-.03,.02,.08,.13,.18,.21,.23,.26,.31,.34,.39],[-.5,-.41,-.36,-.3,-.26,-.22,-.17,-.13,-.08,-.04,.03,.07,.13,.17,.2,.28,.32,.4],[-.47,-.33,-.27,-.22,-.18,-.13,-.09,-.05,-.02,.04,.1,.15,.18,.33,.36,.46],[-.45,-.4,-.29,-.25,-.2,-.16,-.11,-.06,-.01,.05,.11,.16,.2,.25,.29,.35,.38,.49],[-.47,-.43,-.39,-.33,-.28,-.24,-.2,-.15,-.1,-.06,-.01,.03,.08,.12,.17,.22,.27,.31,.36,.41,.5],[-.49,-.45,-.38,-.33,-.29,-.24,-.19,-.14,-.1,-.05,0,.05,.1,.15,.2,.24,.29,.35,.4,.47,.52,.56],[-.5,-.42,-.39,-.33,-.28,-.24,-.19,-.14,-.1,-.05,0,.05,.1,.15,.2,.25,.3,.35,.43,.5,.55],[-.41,-.37,-.31,-.27,-.22,-.18,-.13,-.08,-.03,.02,.06,.1,.16,.21,.26,.32,.38,.44,.5,.58],[-.42,-.37,-.33,-.29,-.24,-.2,-.15,-.1,-.06,-.01,.04,.09,.14,.19,.24,.3,.35,.4,.44,.5],[-.4,-.35,-.3,-.26,-.21,-.16,-.11,-.05,.02,.08,.12,.19,.25,.3,.34,.39,.43,.48,.53,.57],[-.35,-.32,-.26,-.2,-.16,-.1,-.04,-.01,.05,.15,.22,.27,.3,.36,.39,.44,.49,.53],[-.41,-.35,-.3,-.25,-.16,-.13,-.03,0,.07,.1,.12,.25,.29,.34,.42,.48,.52],[-.5,-.38,-.33,-.27,-.23,-.18,-.13,-.08,.12,.16,.26,.3,.36,.43,.54],[-.41,-.37,-.28,-.2,.04,.09,.2,.32,.38,.47,.55],[-.45,-.2,-.18,.25,.3,.44,.47,.56],[-.29,.15,.17],[-.04,.03,.25,.3,.38,.43,.56],[-.13,.46,.52],[-.11],[-.18],[.555]];
const lLevels2=[4.95,4.67,4.33,4.03,3.7,3.38,3.05];
const lRows2=[[-.42,-.34,-.2,-.15,-.1,-.06,0,.05,.1,.15,.24,.3],[-.42,-.35,-.31,-.27,-.23,-.18,-.14,-.08,-.03,.02,.07,.13,.22,.27,.32,.4,.43],[-.43,-.36,-.31,-.26,-.22,-.17,-.12,-.08,-.03,.02,.07,.12,.17,.22,.26,.31,.38,.44,.49],[-.44,-.36,-.31,-.26,-.21,-.16,-.12,-.07,-.02,.03,.07,.12,.17,.23,.28,.33,.38,.46],[-.38,-.31,-.27,-.22,-.18,-.13,-.08,-.03,.04,.07,.14,.21,.27,.32,.37,.41,.46,.5],[-.33,-.28,-.23,-.18,-.13,-.07,-.02,.13,.2,.25,.32,.37,.41,.46,.51],[-.3,-.25,.14,.22,.28,.34,.4,.45]];

/* ===== Fits ===== */
const dFitX=[-17.6,19.8],dFitY=[-.312,.36],dCi=[.05,.02,.05];
const eFitX=[-17.6,19.9],eFitY=[-.34,.401],eCi=[.05,.02,.05];
const fFitX=[-17.6,19.9],fFitY=[-.257,.279],fCi=[.024,.012,.024];
const gFitX=[-17.6,19.9],gFitY=[-.003,-.005],gCi=[.03,.012,.03];
const iFitX=[3.04,8.25],iFitY=[6.36,7.68],iCi=[.085,.03,.085];
const jFitX=[-.448,.39],jFitY=[6.667,7.34],jCi=[.09,.03,.09];
const kFitX=[3.04,8.25],kFitY=[5.19,3.67],kCi=[.2,.07,.2];
const lFitX=[-.514,.581],lFitY=[4.96,3.82],lCi=[.1,.05,.1];

/* ===== Ticks ===== */
const curgXTicks=[-10,0,10,20];
const curgXLabels=['−10','0','10','20'];
const curgXGrid=[-15,-10,-5,0,5,10,15,20];
const dYTicks=[.6,.3,0,-.3];
const dYLabels=['0.6','0.3','0.0','−0.3'];
const dYGrid=[.6,.45,.3,.15,0,-.15,-.3,-.45];
const eYTicks=[.4,0,-.4];
const eYLabels=['0.4','0.0','−0.4'];
const eYGrid=[.6,.4,.2,0,-.2,-.4,-.6];
const tYTicks=[.25,0,-.25];
const tYLabels=['0.25','0.00','−0.25'];
const tYGrid=[.375,.25,.125,0,-.125,-.25,-.375];
const havXTicks=[3,4,5,6,7,8];
const havXLabels=['3','4','5','6','7','8'];
const havXGrid=[3,3.5,4,4.5,5,5.5,6,6.5,7,7.5,8];
const slcYTicks=[9,8,7,6];
const slcYLabels=['9','8','7','6'];
const slcYGrid=[9,8.5,8,7.5,7,6.5,6,5.5];
const jXTicks=[-.25,0,.25];
const jXLabels=['−0.25','0.00','0.25'];
const jXGrid=[-.375,-.25,-.125,0,.125,.25,.375];
const atpYTicks=[8,6,4];
const atpYLabels=['8','6','4'];
const atpYGrid=[9,8,7,6,5,4,3];
const lXTicks=[-.3,0,.3,.6];
const lXLabels=['−0.3','0.0','0.3','0.6'];
const lXGrid=[-.45,-.3,-.15,0,.15,.3,.45,.6];

/* ===== Heatmap ===== */
const heatRowsNames=['SLC31A1','PDHB','PDHA1','MTF1','LIPT1','LIAS','GLS','FDX1','DLD','DLAT','CDKN2A','ATP7B','ATP7A'];
const heatColNames=['Tex_GZMK','Tex_OXPHOS','Tex_TCF7','Tex_Terminal','CD274','CTLA4','HAVCR2','IDO1','LAG3','PDCD1','PDCD1LG2','SIGLEC7','TIGIT'];
const heatValues=[
[.25,.22,.05,.28,.33,.17,.42,.2,.13,.1,.3,.36,.18],
[-.08,-.14,.2,.12,-.07,-.07,-.04,-.06,-.11,-.1,-.02,-.03,-.09],
[-.15,-.22,-.08,.01,-.06,-.05,-.12,.07,-.01,-.05,-.1,-.11,-.06],
[0,.05,-.11,-.09,.17,.05,.06,.07,.04,.05,.11,.09,.1],
[-.01,-.09,.16,-.08,-.05,-.02,-.06,.01,-.05,-.07,.03,-.08,-.02],
[-.1,-.14,.1,0,-.03,-.08,-.04,-.03,-.1,-.1,-.02,-.1,-.08],
[.18,.17,.14,-.01,.3,.18,.23,-.02,0,.03,.15,.14,.1],
[0,-.07,.17,.09,-.04,-.05,.1,-.03,-.11,-.07,.04,.08,-.05],
[-.04,-.06,-.01,.19,.03,-.02,0,0,-.04,-.05,.08,.01,-.04],
[-.1,-.09,-.07,.27,.08,-.02,.04,.02,-.05,-.03,.1,.05,-.02],
[.06,.08,-.04,.12,.2,.14,.13,.09,.22,.15,.12,.09,.16],
[-.26,-.24,-.2,-.13,-.18,-.14,-.2,-.09,-.08,-.07,-.1,-.09,-.14],
[-.04,-.03,.01,-.14,0,-.07,.01,-.03,-.13,-.13,0,0,-.05]];
const heatStars=[
[3,3,0,3,3,3,3,3,3,2,3,3,3],
[3,3,3,3,2,2,0,2,3,3,0,0,3],
[3,3,3,0,2,1,3,1,0,1,3,3,1],
[0,0,3,3,3,0,0,1,0,0,3,2,2],
[0,3,3,3,1,0,2,0,1,2,0,3,0],
[3,3,2,0,0,3,1,0,3,3,0,3,3],
[3,3,3,0,3,3,3,0,0,0,3,3,2],
[0,2,3,2,0,1,2,0,3,2,0,1,1],
[1,3,0,3,0,0,0,0,0,1,1,0,0],
[3,3,3,3,1,0,0,0,1,0,3,0,0],
[1,1,1,3,3,3,3,2,3,3,3,2,3],
[3,3,3,3,3,3,3,3,3,3,3,3,3],
[0,0,0,3,0,2,0,0,3,3,0,0,1]];
const colorbarTicks=[.4,.2,0,-.2];
const colorbarLabels=['0.4','0.2','0.0','−0.2'];

/* ===== Drawing ===== */
const NS='http://www.w3.org/2000/svg';
const fig=document.getElementById('figure');
const BLUE='#5b9fe8',ORANGE='#e8981f',PURPLE='#5a2086',RED='#c40d20';
function el(tag,attrs,parent){
  const n=document.createElementNS(NS,tag);
  for(const k in attrs)n.setAttribute(k,attrs[k]);
  (parent||fig).appendChild(n);
  return n;
}
function txt(name,parent,x,y,str,size,o){
  o=o||{};
  const t=el('text',{x:x,y:y,'font-size':size,'text-anchor':o.anchor||'start'},parent);
  
  
  if(o.rot!==undefined)t.setAttribute('transform','rotate('+o.rot+' '+x+' '+y+')');
  if(o.len){t.setAttribute('textLength',o.len);t.setAttribute('lengthAdjust','spacingAndGlyphs');}
  if(o.fill)t.style.fill=o.fill;
  if(o.weight)t.style.fontWeight=o.weight;
  t.textContent=str;
  return t;
}
function group(name,parent){
  const g=el('g',{},parent);
  
  
  return g;
}
function linear(a){return v=>a[1]+(v-a[0])*(a[3]-a[1])/(a[2]-a[0]);}
function smooth(p){
  let d='M'+p[0][0].toFixed(1)+' '+p[0][1].toFixed(1);
  for(let i=0;i<p.length-1;i++){
    const a=p[Math.max(i-1,0)],b=p[i],c=p[i+1],e=p[Math.min(i+2,p.length-1)];
    d+='C'+(b[0]+(c[0]-a[0])/6).toFixed(1)+' '+(b[1]+(c[1]-a[1])/6).toFixed(1)+' '+(c[0]-(e[0]-b[0])/6).toFixed(1)+' '+(c[1]-(e[1]-b[1])/6).toFixed(1)+' '+c[0].toFixed(1)+' '+c[1].toFixed(1);
  }
  return d;
}

/* panel letters */
const panelLetters=[['A',3,32],['B',575,32],['C',1157,32],['D',3,548],['E',575,548],['F',1157,548],['G',3,1073],['H',573,1073],['I',1165,1073],['J',6,1650],['K',575,1650],['L',1160,1650]];
panelLetters.forEach(l=>{txt('panel-label-'+l[0].toLowerCase(),fig,l[1],l[2],l[0],38);});

/* box plot panels */
const boxScaleY=linear([2,117.3,-2,332]);
function boxPanel(c){
  const g=group('boxplot-panel-'+c.id);
  const sx=i=>c.first+i*c.step;
  c.cats.forEach((cat,ci)=>{
    c.series.forEach((s,si)=>{
      const cx=sx(ci)+(si-(c.series.length-1)/2)*c.dodge,col=c.colors[si];
      const box=group('box-'+c.id+'-'+cat+'-'+s,g);
      const w=el('line',{x1:cx,x2:cx,y1:boxScaleY(c.high[si][ci]),y2:boxScaleY(c.low[si][ci]),stroke:col,'stroke-width':3.4},box);
      
      
      const q3=boxScaleY(c.q3[si][ci]),q1=boxScaleY(c.q1[si][ci]);
      const r=el('rect',{x:cx-c.bw/2,y:q3,width:c.bw,height:q1-q3,fill:'#fff',stroke:col,'stroke-width':3.4},box);
      
      
      const m=el('line',{x1:cx-c.bw/2,x2:cx+c.bw/2,y1:boxScaleY(c.med[si][ci]),y2:boxScaleY(c.med[si][ci]),stroke:col,'stroke-width':3.4},box);
      
      
    });
    const sig=c.sig[ci];
    if(sig==='ns')txt('significance-label',g,sx(ci),90,sig,21,{anchor:'middle'});
    else txt('significance-label',g,sx(ci),90,sig,23,{anchor:'middle'});
    const tick=el('line',{x1:sx(ci),x2:sx(ci),y1:380,y2:385,stroke:'#222','stroke-width':2},g);
    
    
    txt('x-tick-label',g,sx(ci)+21,398,cat,18,{anchor:'end',rot:-47});
  });
  (c.outS||[]).forEach((s,i)=>{
    const cx=sx(c.outC[i])+(s-(c.series.length-1)/2)*c.dodge;
    const o=el('circle',{cx:cx,cy:boxScaleY(c.outV[i]),r:4.6,fill:c.colors[s]},g);
    
    
  });
  const ya=el('line',{x1:c.ax,x2:c.ax,y1:84,y2:381.5,stroke:'#000','stroke-width':3.6},g);
  
  
  const xa=el('line',{x1:c.ax-1.5,x2:c.right,y1:380,y2:380,stroke:'#000','stroke-width':3.6},g);
  
  
  boxYTicks.forEach((v,i)=>{
    const t=el('line',{x1:c.ax-5,x2:c.ax,y1:boxScaleY(v),y2:boxScaleY(v),stroke:'#222','stroke-width':2},g);
    
    
    txt('y-tick-label',g,c.ax-7.5,boxScaleY(v)+6,boxYLabels[i],16,{anchor:'end'});
  });
  txt('y-axis-title',g,c.ax-32,217,'Scale of fraction',19,{anchor:'middle',rot:-90,len:143});
  txt('legend-title',g,c.titleX,44.5,c.legendTitle,19,{len:c.titleLen});
  c.series.forEach((s,si)=>{
    const k=group('legend-entry-'+s.toLowerCase(),g),x=c.keys[si],col=c.colors[si];
    const w=el('line',{x1:x+9.5,x2:x+9.5,y1:28,y2:49,stroke:col,'stroke-width':3},k);
    
    
    const r=el('rect',{x:x+1.5,y:32.5,width:16,height:13,fill:'#fff',stroke:col,'stroke-width':3.2},k);
    
    
    const m=el('line',{x1:x+1.5,x2:x+17.5,y1:39,y2:39,stroke:col,'stroke-width':3},k);
    
    
    txt('legend-label',k,x+21,44,s,18,{fill:c.legendColored?col:'#111',len:c.keyLen?c.keyLen[si]:0});
  });
}
boxPanel({id:'a',cats:boxCategories,series:aSeries,colors:[BLUE,ORANGE,PURPLE],first:161,step:111.3,dodge:29.6,bw:26,ax:94.5,right:562,high:aHigh,q3:aQ3,med:aMed,q1:aQ1,low:aLow,sig:aSig,legendTitle:'CuRGcluster',titleX:180,titleLen:113,keys:[307,355,403]});
boxPanel({id:'b',cats:boxCategories,series:bSeries,colors:[BLUE,ORANGE,PURPLE],first:749,step:111.3,dodge:29.8,bw:26,ax:682,right:1149,high:bHigh,q3:bQ3,med:bMed,q1:bQ1,low:bLow,sig:bSig,outS:bOutSeries,outC:bOutCat,outV:bOutVal,legendTitle:'geneCluster',titleX:786,titleLen:109,keys:[903,951,999]});
boxPanel({id:'c',cats:boxCategories,series:cSeries,colors:[PURPLE,BLUE],first:1317,step:111.3,dodge:44.6,bw:39,ax:1250,right:1717,high:cHigh,q3:cQ3,med:cMed,q1:cQ1,low:cLow,sig:cSig,outS:cOutSeries,outC:cOutCat,outV:cOutVal,legendTitle:'CuRGscore',titleX:1357,titleLen:102,keys:[1479,1561],legendColored:true,keyLen:[41,36]});

/* scatter panels */
function drawPoints(pts,sx,sy,levels,rows){
  levels.forEach((y,i)=>{
    rows[i].forEach(x=>{
      const d=el('circle',{cx:sx(x).toFixed(1),cy:sy(y).toFixed(1),r:5.4,fill:'#000'},pts);
      
      
    });
  });
}
function scatter(c){
  const g=group('scatter-panel-'+c.id);
  const sx=linear(c.sx),sy=linear(c.sy),P=c.plot;
  const top=group('top-density-'+c.id,g),tp=c.topX.map((x,i)=>[sx(x),c.topBase-c.topH[i]*c.topPeak]);
  const ta=el('path',{d:smooth(tp)+'L'+tp[tp.length-1][0]+' '+c.topBase+'L'+tp[0][0]+' '+c.topBase+'Z',fill:BLUE},top);
  
  
  const tl=el('path',{d:smooth(tp),fill:'none',stroke:'#000','stroke-width':3.5},top);
  
  
  const side=group('right-density-'+c.id,g),sp=c.sideY.map((y,i)=>[c.sideBase+c.sideW[i]*c.sidePeak,sy(y)]);
  const sa=el('path',{d:smooth(sp)+'L'+c.sideBase+' '+sp[sp.length-1][1]+'L'+c.sideBase+' '+sp[0][1]+'Z',fill:PURPLE},side);
  
  
  const sl=el('path',{d:smooth(sp),fill:'none',stroke:'#000','stroke-width':3.5},side);
  
  
  const bg=el('rect',{x:P[0],y:P[1],width:P[2]-P[0],height:P[3]-P[1],fill:'#fff'},g);
  
  
  c.gridX.forEach(v=>{
    const l=el('line',{x1:sx(v),x2:sx(v),y1:P[1],y2:P[3],stroke:'#ebebeb','stroke-width':3.2},g);
    
    
  });
  c.gridY.forEach(v=>{
    const l=el('line',{x1:P[0],x2:P[2],y1:sy(v),y2:sy(v),stroke:'#ebebeb','stroke-width':3.2},g);
    
    
  });
  const pts=group('points-'+c.id,g);
  drawPoints(pts,sx,sy,c.levels,c.rows);
  drawPoints(pts,sx,sy,c.levels2,c.rows2);
  const x0=c.fitX[0],x1=c.fitX[1],y0=c.fitY[0],y1=c.fitY[1],xm=(x0+x1)/2,ym=(y0+y1)/2;
  const up=[[x0,y0+c.ci[0]],[xm,ym+c.ci[1]],[x1,y1+c.ci[2]]],lo=[[x1,y1-c.ci[2]],[xm,ym-c.ci[1]],[x0,y0-c.ci[0]]];
  const band=el('polygon',{points:up.concat(lo).map(p=>sx(p[0]).toFixed(1)+','+sy(p[1]).toFixed(1)).join(' '),fill:'#555','fill-opacity':.28},g);
  
  
  const fit=el('line',{x1:sx(x0),y1:sy(y0),x2:sx(x1),y2:sy(y1),stroke:RED,'stroke-width':4.2},g);
  
  
  const fr=el('rect',{x:P[0],y:P[1],width:P[2]-P[0],height:P[3]-P[1],fill:'none',stroke:'#3a3a3a','stroke-width':1.9},g);
  
  
  c.xTicks.forEach((v,i)=>{
    const t=el('line',{x1:sx(v),x2:sx(v),y1:P[3],y2:P[3]+4,stroke:'#333','stroke-width':2},g);
    
    
    txt('x-tick-label',g,sx(v)+1,P[3]+20,c.xLabels[i],15.5,{anchor:'middle'});
  });
  c.yTicks.forEach((v,i)=>{
    const t=el('line',{x1:P[0]-4,x2:P[0],y1:sy(v),y2:sy(v),stroke:'#333','stroke-width':2},g);
    
    
    txt('y-tick-label',g,P[0]-7,sy(v)+5.5,c.yLabels[i],15.5,{anchor:'end'});
  });
  txt('x-axis-title',g,c.xT[0],c.xT[1],c.xTitle,18.5,{anchor:'middle',len:c.xT[2]});
  txt('y-axis-title',g,c.yT[0]+6.5,c.yT[1],c.yTitle,18.5,{anchor:'middle',rot:-90,len:c.yT[2]});
  const r=txt('correlation-label',g,c.r[0],c.r[1]+5,'',14.2);
  c.rParts.forEach(p=>{
    const s=el('tspan',{},r);
    if(p[1])s.setAttribute('font-style','italic');
    s.textContent=p[0];
  });
}
scatter({id:'d',plot:[95,617.3,486,978.3],sx:[-10,183.7,20,471.5],sy:[.6,626,-.3,897.7],topX:curgDensX,topH:curgDensH,topBase:612.3,topPeak:67,sideY:dSideY,sideW:dSideW,sideBase:490.6,sidePeak:72,gridX:curgXGrid,gridY:dYGrid,levels:dLevels,rows:dRows,levels2:dLevels2,rows2:dRows2,fitX:dFitX,fitY:dFitY,ci:dCi,xTicks:curgXTicks,xLabels:curgXLabels,yTicks:dYTicks,yLabels:dYLabels,xTitle:'CuRGscore',yTitle:'Tex_GZMK score',xT:[303,1018,102],yT:[51,779,148],r:[113,644],rParts:[['R = 0.46, p < 2.2e−16',1]]});
scatter({id:'e',plot:[683.8,617.3,1074.7,978.3],sx:[-10,771.8,20,1060.2],sy:[.4,694.3,-.4,902.3],topX:curgDensX,topH:curgDensH,topBase:612.3,topPeak:67,sideY:eSideY,sideW:eSideW,sideBase:1079,sidePeak:73,gridX:curgXGrid,gridY:eYGrid,levels:eLevels,rows:eRows,levels2:eLevels2,rows2:eRows2,fitX:eFitX,fitY:eFitY,ci:eCi,xTicks:curgXTicks,xLabels:curgXLabels,yTicks:eYTicks,yLabels:eYLabels,xTitle:'CuRGscore',yTitle:'Tex_OXPHOS score',xT:[892,1018,101],yT:[640,777.5,172],r:[701,644],rParts:[['R = ',0],['0.5',1],[', p < ',0],['2.2e−16',1]]});
scatter({id:'f',plot:[1254,617.3,1639.8,978.3],sx:[-10,1341.3,20,1625.5],sy:[.25,688,-.25,885],topX:curgDensX,topH:curgDensH,topBase:612.3,topPeak:67,sideY:fSideY,sideW:fSideW,sideBase:1644,sidePeak:71.4,gridX:curgXGrid,gridY:tYGrid,levels:fLevels,rows:fRows,levels2:fLevels2,rows2:fRows2,fitX:fFitX,fitY:fFitY,ci:fCi,xTicks:curgXTicks,xLabels:curgXLabels,yTicks:tYTicks,yLabels:tYLabels,xTitle:'CuRGscore',yTitle:'Tex_Terminal score',xT:[1459.6,1018,102],yT:[1203,776,168],r:[1271.6,644],rParts:[['R = 0.62, p < 2.2e−16',1]]});
scatter({id:'g',plot:[97.4,1150.2,483.3,1512.3],sx:[-10,184.4,20,469.3],sy:[.25,1227.6,-.25,1428.1],topX:curgDensX,topH:curgDensH,topBase:1146.2,topPeak:66.6,sideY:gSideY,sideW:gSideW,sideBase:488,sidePeak:71,gridX:curgXGrid,gridY:tYGrid,levels:gLevels,rows:gRows,levels2:gLevels2,rows2:gRows2,fitX:gFitX,fitY:gFitY,ci:gCi,xTicks:curgXTicks,xLabels:curgXLabels,yTicks:tYTicks,yLabels:tYLabels,xTitle:'CuRGscore',yTitle:'Tex_TCF7 score',xT:[303,1551,102],yT:[46,1314.7,140],r:[115,1162.4],rParts:[['R =\u00a0\u00a0-0.012, p = 0.7',1]]});
scatter({id:'i',plot:[1256,1150.2,1661,1511.6],sx:[3,1271,8,1626],sy:[9,1168.8,6,1432.5],topX:havcrDensX,topH:havcrDensH,topBase:1146.5,topPeak:66.9,sideY:iSideY,sideW:iSideW,sideBase:1664.8,sidePeak:76,gridX:havXGrid,gridY:slcYGrid,levels:iLevels,rows:iRows,levels2:iLevels2,rows2:iRows2,fitX:iFitX,fitY:iFitY,ci:iCi,xTicks:havXTicks,xLabels:havXLabels,yTicks:slcYTicks,yLabels:slcYLabels,xTitle:'HAVCR2',yTitle:'SLC31A1',xT:[1467,1556.5,74],yT:[1221,1328,79],r:[1274,1161],rParts:[['R = 0.42, p < 2.2e−16',0]]});
scatter({id:'j',plot:[93.4,1700.7,498.7,2062.7],sx:[-.25,199,.25,419],sy:[9,1719,6,1982.7],topX:jTopX,topH:jTopH,topBase:1696.7,topPeak:66.7,sideY:jSideY,sideW:jSideW,sideBase:502.5,sidePeak:76,gridX:jXGrid,gridY:slcYGrid,levels:jLevels,rows:jRows,levels2:jLevels2,rows2:jRows2,fitX:jFitX,fitY:jFitY,ci:jCi,xTicks:jXTicks,xLabels:jXLabels,yTicks:slcYTicks,yLabels:slcYLabels,xTitle:'Tex_Terminal',yTitle:'SLC31A1',xT:[310.8,2107,115],yT:[58,1878,79],r:[111.7,1727.7],rParts:[['R = 0.28, p < 2.2e−16',0]]});
scatter({id:'k',plot:[673,1699.3,1078,2060.7],sx:[3,688.6,8,1043.3],sy:[8,1757.3,4,1960.7],topX:havcrDensX,topH:havcrDensH,topBase:1695,topPeak:67.7,sideY:kSideY,sideW:kSideW,sideBase:1083.2,sidePeak:75,gridX:havXGrid,gridY:atpYGrid,levels:kLevels,rows:kRows,levels2:kLevels2,rows2:kRows2,fitX:kFitX,fitY:kFitY,ci:kCi,xTicks:havXTicks,xLabels:havXLabels,yTicks:atpYTicks,yLabels:atpYLabels,xTitle:'HAVCR2',yTitle:'ATP7B',xT:[884,2105.5,73],yT:[638,1878,56],r:[691.6,1726],rParts:[['R =\u00a0\u00a0-0.26 , p < 2.2e−16',0]]});
scatter({id:'l',plot:[1257,1699.3,1662.8,2060.7],sx:[-.3,1347.4,.6,1651.2],sy:[8,1757.3,4,1960.7],topX:lTopX,topH:lTopH,topBase:1695,topPeak:67.7,sideY:lSideY,sideW:lSideW,sideBase:1667,sidePeak:75.4,gridX:lXGrid,gridY:atpYGrid,levels:lLevels,rows:lRows,levels2:lLevels2,rows2:lRows2,fitX:lFitX,fitY:lFitY,ci:lCi,xTicks:lXTicks,xLabels:lXLabels,yTicks:atpYTicks,yLabels:atpYLabels,xTitle:'Tex_GZMK',yTitle:'ATP7B',xT:[1471,2105,92.6],yT:[1222.7,1878,56],r:[1275,1726],rParts:[['R = -0.32 , p < 2.2e−16',0]]});

/* heatmap */
function mix(a,b,t){return 'rgb('+a.map((v,i)=>Math.round(v+(b[i]-v)*t)).join(',')+')';}
function heatColor(v){
  return v>=0?mix([255,255,255],[90,32,134],Math.min(v/.43,1)):mix([255,255,255],[118,152,240],Math.min(-v/.29,1));
}
(function(){
  const g=group('correlation-heatmap');
  const cx=i=>719+i*25.47,cy=i=>1103.2+i*28.42;
  const bg=el('rect',{x:704.3,y:1086.6,width:335,height:374.6,fill:'#fff',stroke:'#ededed','stroke-width':2.4},g);
  
  
  heatRowsNames.forEach((rn,r)=>{
    txt('heatmap-row-label',g,695,cy(r)+6.5,rn,18.5,{anchor:'end'});
    const t=el('line',{x1:700,x2:704,y1:cy(r),y2:cy(r),stroke:'#333','stroke-width':1.6},g);
    
    
    heatColNames.forEach((cn,c)=>{
      const cell=el('rect',{x:cx(c)-11.6,y:cy(r)-12.9,width:23.2,height:25.8,fill:heatColor(heatValues[r][c])},g);
      
      
      const n=heatStars[r][c];
      if(n>0)txt('heatmap-significance',g,cx(c),cy(r)+6,'*'.repeat(n),17,{anchor:'middle'});
    });
  });
  heatColNames.forEach((cn,c)=>{
    const t=el('line',{x1:cx(c),x2:cx(c),y1:1461,y2:1465,stroke:'#333','stroke-width':1.6},g);
    
    
    txt('heatmap-column-label',g,cx(c)+12,1480,cn,18.5,{anchor:'end',rot:-42});
  });
  const defs=el('defs',{},g);
  const grad=el('linearGradient',{id:'corrGradient',x1:0,y1:0,x2:0,y2:1},defs);
  const stopVals=[.437,.3,.2,.1,0,-.1,-.2,-.3];
  stopVals.forEach(v=>{el('stop',{offset:((.437-v)/.737).toFixed(3),'stop-color':heatColor(v)},grad);});
  const barScale=linear([.4,1280.7,-.2,1373.3]);
  const bar=el('rect',{x:1061.7,y:1275,width:22.6,height:114,fill:'url(#corrGradient)'},g);
  
  
  colorbarTicks.forEach((v,i)=>{
    const a=el('line',{x1:1061.7,x2:1066,y1:barScale(v),y2:barScale(v),stroke:'#fff','stroke-width':1},g);
    
    
    const b=el('line',{x1:1080,x2:1084.3,y1:barScale(v),y2:barScale(v),stroke:'#fff','stroke-width':1},g);
    
    
    txt('colorbar-label',g,1092,barScale(v)+5.5,colorbarLabels[i],15.5);
  });
  txt('colorbar-title',g,1062,1265.5,'Correlation',15.5,{len:84});
  txt('significance-key',g,1066,1170.5,'* p < 0.05',15);
  txt('significance-key',g,1062,1202.5,'** p < 0.01',15);
  txt('significance-key',g,1062,1233.5,'***  p<0.001',15,{len:85});
})();
</script>
</body>
</html>
